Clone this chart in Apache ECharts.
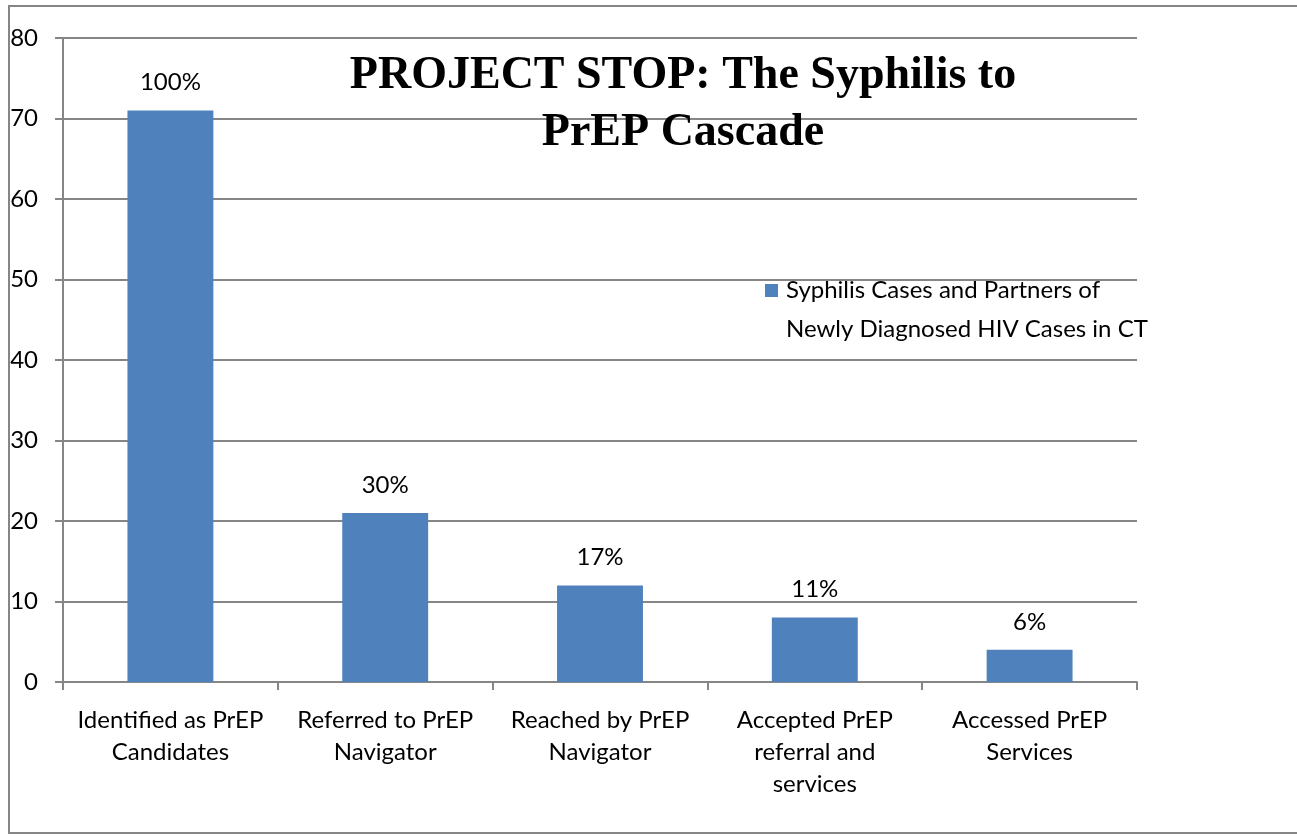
<!DOCTYPE html>
<html><head><meta charset="utf-8">
<script src="https://cdn.jsdelivr.net/npm/echarts@6/dist/echarts.min.js"></script>
<style>html,body{margin:0;padding:0;background:#fff}#c{width:1297px;height:836px}</style>
</head><body><div id="c"></div>
<script>
const categories = ['Identified as PrEP\nCandidates', 'Referred to PrEP\nNavigator', 'Reached by PrEP\nNavigator', 'Accepted PrEP\nreferral and\nservices', 'Accessed PrEP\nServices'];
const values = [71, 21, 12, 8, 4];
const pctLabels = ['100%', '30%', '17%', '11%', '6%'];
const yTicks = [0, 10, 20, 30, 40, 50, 60, 70, 80];
const seriesName = 'Syphilis Cases and Partners of Newly Diagnosed HIV Cases in CT';

const FONT = 'Lato';
const GRAY = '#868686';
const chart = echarts.init(document.getElementById('c'), null, {renderer: 'canvas'});
chart.setOption({
  animation: false,
  backgroundColor: '#fff',
  graphic: [{
    type: 'rect', shape: {x: 9, y: 6, width: 1300, height: 827},
    style: {fill: 'none', stroke: GRAY, lineWidth: 2}, z: -10
  }],
  title: {
    text: 'PROJECT STOP: The Syphilis to\nPrEP Cascade',
    left: 683, top: 48, padding: 0, textAlign: 'center',
    textStyle: {fontFamily: 'Liberation Serif', fontWeight: 'bold', fontSize: 46, lineHeight: 57, color: '#000'}
  },
  legend: {
    left: 765, top: 271, orient: 'vertical', padding: 0,
    icon: 'path://M0,0L13,0L13,13L0,13Z M0,52L13,52Z', itemWidth: 13, itemHeight: 52, itemGap: 0,
    formatter: function (n) { return n.replace(' of ', ' of\n'); },
    textStyle: {fontFamily: FONT, fontSize: 24, lineHeight: 39, color: '#000', padding: [0, 0, 0, 3]},
    data: [seriesName]
  },
  grid: {left: 63, right: 160, top: 38, bottom: 154, containLabel: false},
  xAxis: {
    type: 'category', data: categories,
    axisLine: {lineStyle: {color: GRAY, width: 2}},
    axisTick: {show: true, length: 8, alignWithLabel: false, lineStyle: {color: GRAY, width: 2}},
    axisLabel: {fontFamily: FONT, fontSize: 24, lineHeight: 32, color: '#000', margin: 22, interval: 0}
  },
  yAxis: {
    type: 'value', min: 0, max: 80, interval: 10,
    axisLine: {show: true, lineStyle: {color: GRAY, width: 2}},
    axisTick: {show: true, length: 8, lineStyle: {color: GRAY, width: 2}},
    splitLine: {lineStyle: {color: GRAY, width: 2}},
    axisLabel: {fontFamily: FONT, fontSize: 24, color: '#000', margin: 25,
      formatter: function (v) { return yTicks.indexOf(v) >= 0 ? String(v) : ''; }}
  },
  series: [{
    name: seriesName, type: 'bar', data: values, barWidth: '40%',
    itemStyle: {color: '#4f81bd'},
    label: {show: true, position: 'top', distance: 16, fontFamily: FONT, fontSize: 24, color: '#000',
      formatter: function (p) { return pctLabels[p.dataIndex]; }}
  }]
});
</script></body></html>
